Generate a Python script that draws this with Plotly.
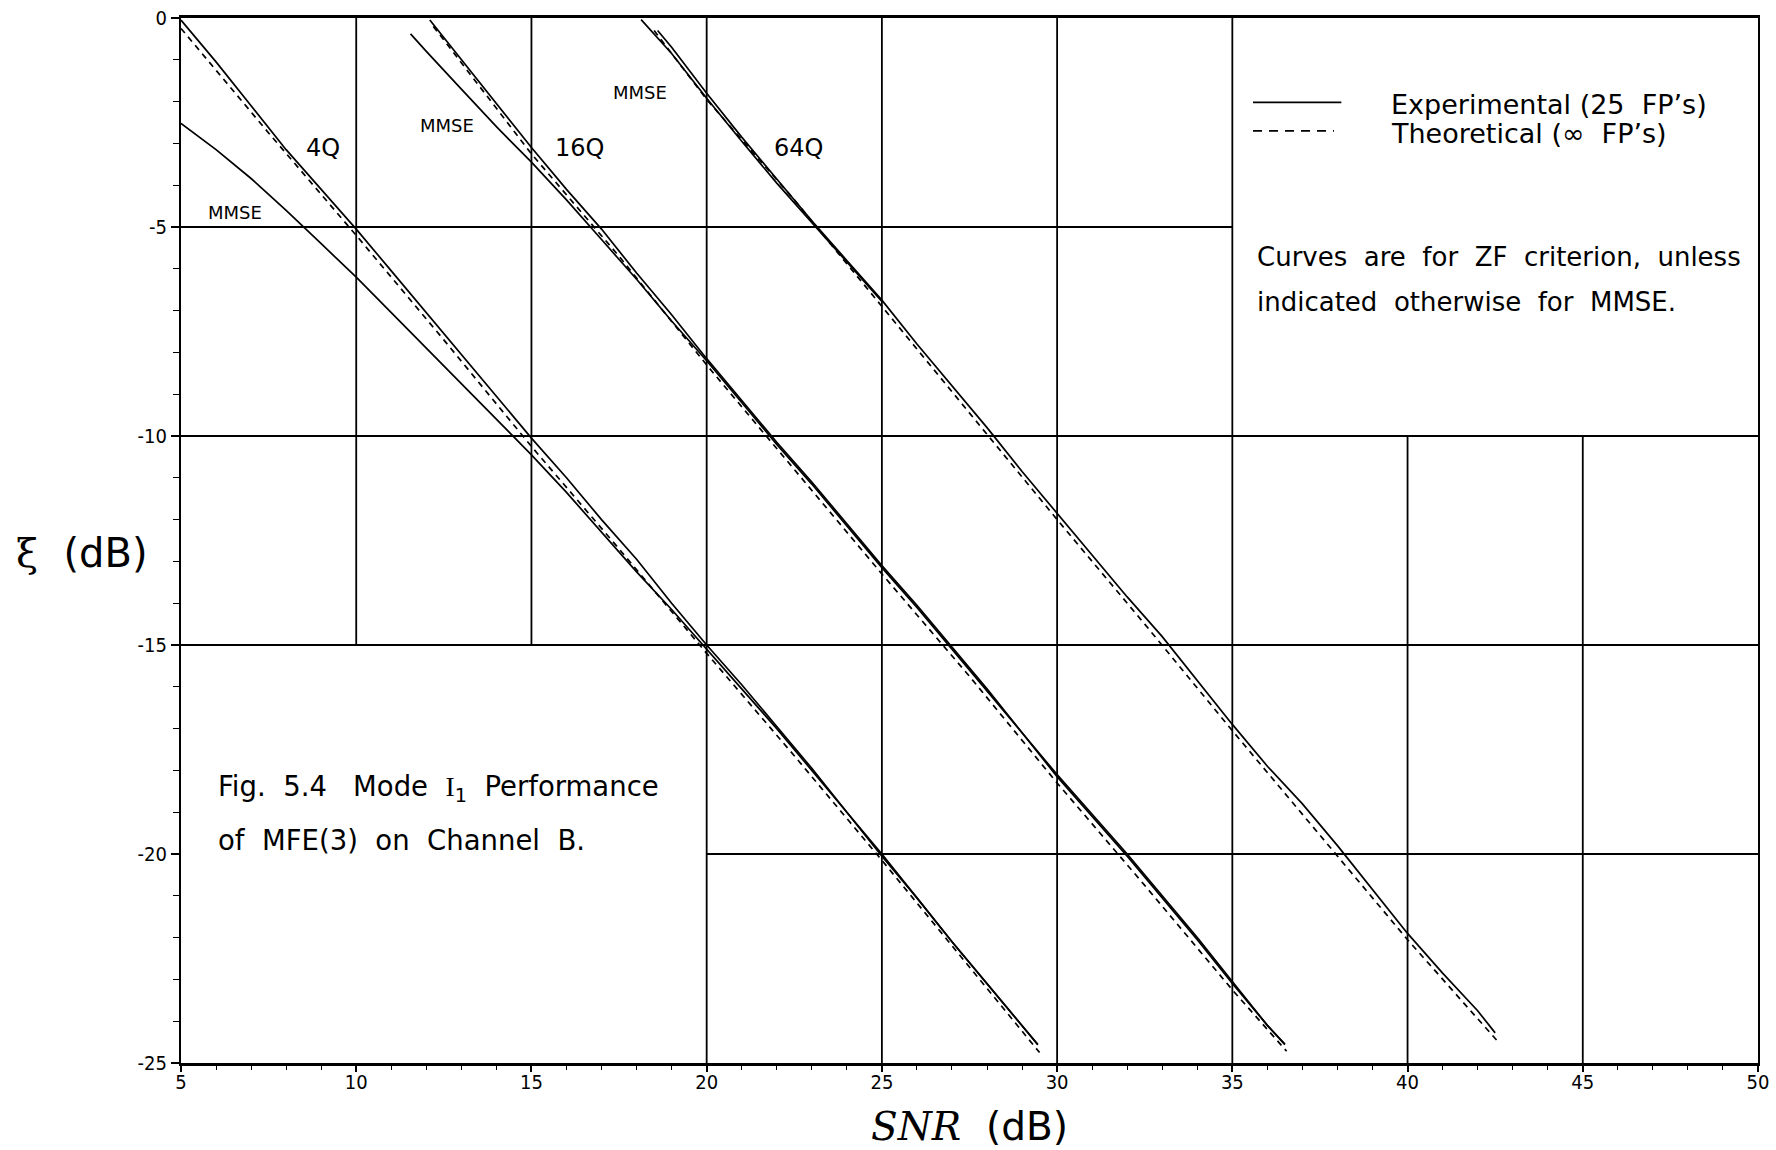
import plotly.graph_objects as go

# ---------------- data ----------------
# 4Q
snr_4q_zf = [5, 6, 7, 8, 9, 10, 11, 12, 13, 14, 15, 16, 17, 18, 19, 20, 21, 22, 23, 24, 25, 26, 27, 28, 29, 29.45]
xi_4q_zf = [-0.05, -1.05, -2.1, -3.15, -4.1, -5.05, -6.05, -7.05, -8.05, -9.05, -10.05, -11.0, -12.0, -12.95, -14.0,
            -15.0, -15.95, -16.95, -17.95, -19.0, -20.0, -21.05, -22.1, -23.1, -24.1, -24.56]
snr_4q_mmse = [5, 6, 7, 8, 9, 10, 11, 12, 13, 14, 15, 16, 17, 18, 19, 20, 21, 22, 23, 24, 25, 26, 27, 28, 29, 29.45]
xi_4q_mmse = [-2.52, -3.15, -3.84, -4.6, -5.4, -6.2, -7.05, -7.9, -8.75, -9.6, -10.45, -11.35, -12.3, -13.25, -14.15,
              -15.1, -16.05, -17.0, -18.0, -19.0, -20.05, -21.05, -22.1, -23.1, -24.1, -24.56]
snr_4q_th = [5, 7.5, 10, 12.5, 15, 17.5, 20, 22.5, 25, 27.5, 29.5]
xi_4q_th = [-0.25, -2.75, -5.2, -7.7, -10.25, -12.7, -15.2, -17.65, -20.15, -22.7, -24.75]

# 16Q
snr_16q_zf = [12.1, 13, 14, 15, 16, 17, 18, 19, 20, 21, 22, 23, 24, 25, 26, 27, 28, 29, 30, 31, 32, 33, 34, 35, 36, 36.5]
xi_16q_zf = [-0.05, -1.0, -2.05, -3.1, -4.1, -5.05, -6.1, -7.1, -8.15, -9.15, -10.15, -11.1, -12.1, -13.1, -14.05,
             -15.05, -16.05, -17.1, -18.1, -19.05, -20.0, -21.0, -22.0, -23.05, -24.1, -24.55]
snr_16q_mmse = [11.55, 12, 13, 14, 15, 16, 17, 18, 19, 20, 21, 22, 23, 24, 25, 26, 27, 28, 29, 30, 31, 32, 33, 34, 35, 36, 36.5]
xi_16q_mmse = [-0.38, -0.8, -1.7, -2.6, -3.45, -4.35, -5.3, -6.25, -7.25, -8.2, -9.2, -10.2, -11.15, -12.15, -13.15,
               -14.1, -15.1, -16.1, -17.1, -18.15, -19.1, -20.05, -21.05, -22.05, -23.1, -24.1, -24.56]
snr_16q_th = [12.2, 15, 17.5, 20, 22.5, 25, 27.5, 30, 32.5, 35, 36.55]
xi_16q_th = [-0.2, -3.25, -5.7, -8.3, -10.8, -13.3, -15.75, -18.3, -20.75, -23.25, -24.72]

# 64Q
snr_64q_zf = [18.6, 19, 20, 21, 22, 23, 24, 25, 26, 27, 28, 29, 30, 31, 32, 33, 34, 35, 36, 37, 38, 39, 40, 41, 42, 42.5]
xi_64q_zf = [-0.3, -0.7, -1.8, -2.85, -3.85, -4.85, -5.8, -6.75, -7.8, -8.8, -9.8, -10.85, -11.85, -12.85, -13.85,
             -14.8, -15.85, -16.9, -17.9, -18.8, -19.8, -20.85, -21.9, -22.85, -23.75, -24.28]
snr_64q_mmse = [18.13, 19, 20, 21, 22, 23, 24, 25]
xi_64q_mmse = [-0.04, -0.85, -1.92, -2.95, -3.95, -4.9, -5.85, -6.78]
snr_64q_th = [18.5, 20, 22.5, 25, 27.5, 30, 32.5, 35, 37.5, 40, 42.55]
xi_64q_th = [-0.3, -1.95, -4.35, -6.9, -9.45, -12.0, -14.5, -17.05, -19.55, -22.05, -24.46]

# axis ticks
x_tickvals = [5, 10, 15, 20, 25, 30, 35, 40, 45, 50]
x_ticktext = ["5", "10", "15", "20", "25", "30", "35", "40", "45", "50"]
y_tickvals = [0, -5, -10, -15, -20, -25]
y_ticktext = ["0", "-5", "-10", "-15", "-20", "-25"]

# partial grid of the original plot: (value, from, to)
h_grid = [(-5, 5, 35), (-10, 5, 50), (-15, 5, 50), (-20, 20, 50)]
v_grid = [(10, -15, 0), (15, -15, 0), (20, -25, 0), (25, -25, 0), (30, -25, 0), (35, -25, 0),
          (40, -25, -10), (45, -25, -10)]

# ---------------- figure ----------------
fig = go.Figure()
LW = 1.7
DASH = "6px,5px"


def add(x, y, dash="solid"):
    fig.add_trace(go.Scatter(x=x, y=y, mode="lines", showlegend=False, hoverinfo="skip",
                             line=dict(color="black", width=LW, dash=dash)))


add(snr_4q_th, xi_4q_th, DASH)
add(snr_4q_zf, xi_4q_zf)
add(snr_4q_mmse, xi_4q_mmse)
add(snr_16q_th, xi_16q_th, DASH)
add(snr_16q_zf, xi_16q_zf)
add(snr_16q_mmse, xi_16q_mmse)
add(snr_64q_th, xi_64q_th, DASH)
add(snr_64q_zf, xi_64q_zf)
add(snr_64q_mmse, xi_64q_mmse)

shapes = []
for yv, x0, x1 in h_grid:
    shapes.append(dict(type="line", xref="x", yref="y", x0=x0, x1=x1, y0=yv, y1=yv,
                       line=dict(color="black", width=1.8), layer="below"))
for xv, y0, y1 in v_grid:
    shapes.append(dict(type="line", xref="x", yref="y", x0=xv, x1=xv, y0=y0, y1=y1,
                       line=dict(color="black", width=1.8), layer="below"))
# legend sample lines
shapes.append(dict(type="line", xref="x", yref="y", x0=35.59, x1=38.11, y0=-2.02, y1=-2.02,
                   line=dict(color="black", width=1.8)))
shapes.append(dict(type="line", xref="x", yref="y", x0=35.59, x1=37.9, y0=-2.70, y1=-2.70,
                   line=dict(color="black", width=1.6, dash="9px,7px")))

TXT = "DejaVu Sans"
NB = "\u00a0"
anns = []


def note(x, y, text, size, xanchor="center"):
    anns.append(dict(x=x, y=y, xref="x", yref="y", text=text, showarrow=False, xanchor=xanchor,
                     yanchor="middle", font=dict(family=TXT, size=size, color="black")))


note(9.05, -3.10, "4Q", 24)
note(16.36, -3.10, "16Q", 24)
note(22.61, -3.10, "64Q", 24)
note(6.55, -4.65, "MMSE", 18)
note(12.6, -2.58, "MMSE", 18)
note(18.1, -1.79, "MMSE", 18)
note(39.47, -2.08, "Experimental" + NB + "(25" + NB * 2 + "FP’s)", 27, "left")
note(39.47, -2.76, "Theoretical" + NB + "(∞" + NB * 2 + "FP’s)", 27, "left")
note(35.65, -5.72, (NB * 2).join(["Curves", "are", "for", "ZF", "criterion,", "unless"]), 26, "left")
note(35.65, -6.80, (NB * 2).join(["indicated", "otherwise", "for", "MMSE."]), 26, "left")
note(6.0, -18.43, "Fig." + NB * 2 + "5.4" + NB * 3 + "Mode" + NB * 2 +
     "<span style='font-family:Liberation Serif'>I</span><sub>1</sub>" + NB * 2 + "Performance", 27.5, "left")
note(6.0, -19.67, (NB * 2).join(["of", "MFE(3)", "on", "Channel", "B."]), 27.5, "left")

# axis titles
anns.append(dict(x=0.5, y=-0.0605, xref="paper", yref="paper", showarrow=False, xanchor="center",
                 yanchor="middle",
                 text="<span style='font-family:DejaVu Serif'><i>SNR</i></span>" + NB * 2 + "(dB)",
                 font=dict(family="DejaVu Sans", size=39, color="black")))
anns.append(dict(x=-0.063, y=0.488, xref="paper", yref="paper", showarrow=False, xanchor="center",
                 yanchor="middle",
                 text="<span style='font-family:DejaVu Serif'>ξ</span>" + NB * 2 + "(dB)",
                 font=dict(family="DejaVu Sans", size=40, color="black")))

tickfont = dict(family="Liberation Sans Narrow, DejaVu Sans Condensed, Arial", size=20, color="black")

fig.update_layout(
    width=1776, height=1150,
    margin=dict(l=181, r=18, t=18, b=87, pad=0, autoexpand=False),
    paper_bgcolor="white", plot_bgcolor="white",
    shapes=shapes, annotations=anns,
    xaxis=dict(range=[5, 50], showgrid=False, zeroline=False, showline=True, linecolor="black",
               linewidth=2.5, mirror=True, ticks="outside", ticklen=6, tickwidth=1.5, tickcolor="black",
               tickmode="array", tickvals=x_tickvals, ticktext=x_ticktext, tickfont=tickfont,
               ticklabelstandoff=-7, automargin=False,
               minor=dict(dtick=1, tick0=5, ticks="outside", ticklen=4, tickwidth=1.2, tickcolor="black",
                          showgrid=False)),
    yaxis=dict(range=[-25, 0], showgrid=False, zeroline=False, showline=True, linecolor="black",
               linewidth=2.2, mirror=True, ticks="outside", ticklen=8, tickwidth=1.5, tickcolor="black",
               tickmode="array", tickvals=y_tickvals, ticktext=y_ticktext, tickfont=tickfont,
               ticklabelstandoff=0, automargin=False,
               minor=dict(dtick=1, tick0=0, ticks="outside", ticklen=6, tickwidth=1.2, tickcolor="black",
                          showgrid=False)),
)

fig.write_html("out.html", config={"displayModeBar": False},
               post_script="document.body.style.margin='0px';document.body.style.overflow='hidden';")
